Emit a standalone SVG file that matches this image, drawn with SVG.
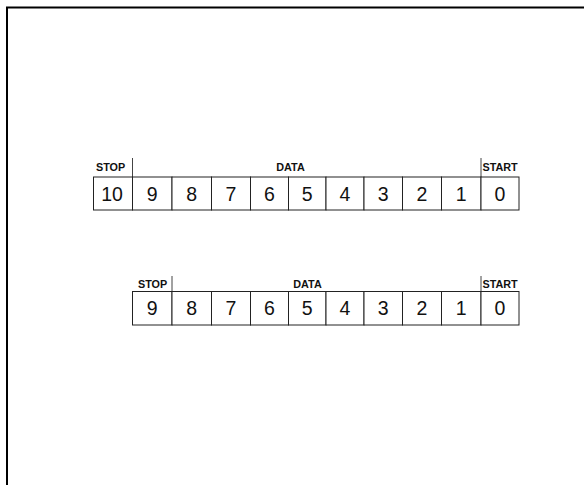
<svg xmlns="http://www.w3.org/2000/svg" width="584" height="485" viewBox="0 0 584 485">
<style>
.cell{fill:#fff;stroke:#222;stroke-width:1}
.dig{font-family:"Liberation Sans",Arial,sans-serif;font-size:19.5px;fill:#111;text-anchor:middle}
.lbl{font-family:"Liberation Sans",Arial,sans-serif;font-size:10.8px;font-weight:bold;fill:#111}
.div{stroke:#444;stroke-width:1}
.frame{fill:none;stroke:#000;stroke-width:2}
</style>
<rect width="584" height="485" fill="#fff"/>
<path class="frame" d="M7 490 V7.5 H590"/>
<g id="row1">
<g id="r1-labels">
<text class="lbl" x="96" y="170.5">STOP</text>
<text class="lbl" x="290.5" y="170.5" text-anchor="middle">DATA</text>
<text class="lbl" x="482.5" y="170.5">START</text>
<line class="div" x1="132.5" y1="158" x2="132.5" y2="177"/>
<line class="div" x1="481" y1="158" x2="481" y2="177"/>
</g>
<g id="r1-b10"><rect class="cell" x="93.5" y="177" width="39" height="33"/><text class="dig" x="112" y="200.5">10</text></g>
<g id="r1-b9"><rect class="cell" x="132.5" y="177" width="39.5" height="33"/><text class="dig" x="152.2" y="200.5">9</text></g>
<g id="r1-b8"><rect class="cell" x="172" y="177" width="39.5" height="33"/><text class="dig" x="191.7" y="200.5">8</text></g>
<g id="r1-b7"><rect class="cell" x="211.5" y="177" width="39" height="33"/><text class="dig" x="231" y="200.5">7</text></g>
<g id="r1-b6"><rect class="cell" x="250.5" y="177" width="38" height="33"/><text class="dig" x="269.5" y="200.5">6</text></g>
<g id="r1-b5"><rect class="cell" x="288.5" y="177" width="37.5" height="33"/><text class="dig" x="307.2" y="200.5">5</text></g>
<g id="r1-b4"><rect class="cell" x="326" y="177" width="38" height="33"/><text class="dig" x="345" y="200.5">4</text></g>
<g id="r1-b3"><rect class="cell" x="364" y="177" width="38.5" height="33"/><text class="dig" x="383.2" y="200.5">3</text></g>
<g id="r1-b2"><rect class="cell" x="402.5" y="177" width="39" height="33"/><text class="dig" x="422" y="200.5">2</text></g>
<g id="r1-b1"><rect class="cell" x="441.5" y="177" width="39.5" height="33"/><text class="dig" x="461.2" y="200.5">1</text></g>
<g id="r1-b0"><rect class="cell" x="481" y="177" width="38" height="33"/><text class="dig" x="500" y="200.5">0</text></g>
</g>
<g id="row2">
<g id="r2-labels">
<text class="lbl" x="138" y="287.5">STOP</text>
<text class="lbl" x="307.5" y="287.5" text-anchor="middle">DATA</text>
<text class="lbl" x="482.5" y="287.5">START</text>
<line class="div" x1="172" y1="276" x2="172" y2="291.5"/>
<line class="div" x1="481" y1="276" x2="481" y2="291.5"/>
</g>
<g id="r2-b9"><rect class="cell" x="132.5" y="291.5" width="39.5" height="33.5"/><text class="dig" x="152.2" y="315">9</text></g>
<g id="r2-b8"><rect class="cell" x="172" y="291.5" width="39.5" height="33.5"/><text class="dig" x="191.7" y="315">8</text></g>
<g id="r2-b7"><rect class="cell" x="211.5" y="291.5" width="39" height="33.5"/><text class="dig" x="231" y="315">7</text></g>
<g id="r2-b6"><rect class="cell" x="250.5" y="291.5" width="38" height="33.5"/><text class="dig" x="269.5" y="315">6</text></g>
<g id="r2-b5"><rect class="cell" x="288.5" y="291.5" width="37.5" height="33.5"/><text class="dig" x="307.2" y="315">5</text></g>
<g id="r2-b4"><rect class="cell" x="326" y="291.5" width="38" height="33.5"/><text class="dig" x="345" y="315">4</text></g>
<g id="r2-b3"><rect class="cell" x="364" y="291.5" width="38.5" height="33.5"/><text class="dig" x="383.2" y="315">3</text></g>
<g id="r2-b2"><rect class="cell" x="402.5" y="291.5" width="39" height="33.5"/><text class="dig" x="422" y="315">2</text></g>
<g id="r2-b1"><rect class="cell" x="441.5" y="291.5" width="39.5" height="33.5"/><text class="dig" x="461.2" y="315">1</text></g>
<g id="r2-b0"><rect class="cell" x="481" y="291.5" width="38" height="33.5"/><text class="dig" x="500" y="315">0</text></g>
</g>
</svg>
